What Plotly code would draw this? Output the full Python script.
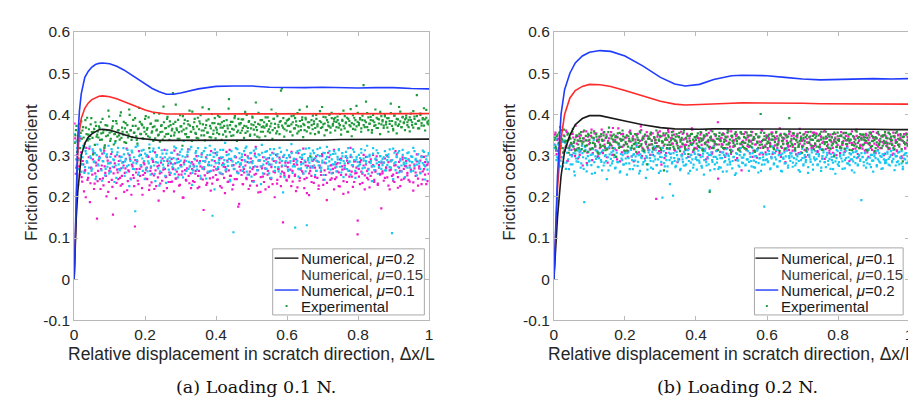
import numpy as np
import plotly.graph_objects as go

# ---------------- numerical curves ----------------
XA = [0, 0.003, 0.006, 0.01, 0.015, 0.02, 0.03, 0.04, 0.05, 0.06, 0.07, 0.08, 0.1, 0.12, 0.14, 0.16,
      0.18, 0.2, 0.22, 0.24, 0.26, 0.28, 0.3, 0.35, 0.4, 0.45, 0.5, 0.55, 0.6, 0.65, 0.7, 0.75, 0.8,
      0.85, 0.9, 0.95, 1.0]
BLUE_A = [0, 0.12, 0.24, 0.34, 0.41, 0.45, 0.49, 0.505, 0.515, 0.521, 0.524, 0.525, 0.523, 0.517,
          0.508, 0.497, 0.485, 0.474, 0.463, 0.455, 0.449, 0.449, 0.452, 0.462, 0.468, 0.469, 0.469,
          0.466, 0.465, 0.465, 0.466, 0.465, 0.464, 0.465, 0.465, 0.463, 0.462]
RED_A = [0, 0.1, 0.2, 0.3, 0.36, 0.39, 0.415, 0.428, 0.436, 0.441, 0.444, 0.445, 0.443, 0.438, 0.431,
         0.424, 0.417, 0.411, 0.406, 0.403, 0.401, 0.401, 0.401, 0.401, 0.402, 0.402, 0.402, 0.402,
         0.402, 0.402, 0.402, 0.402, 0.402, 0.402, 0.402, 0.402, 0.402]
BLACK_A = [0, 0.08, 0.15, 0.21, 0.26, 0.30, 0.33, 0.345, 0.353, 0.359, 0.363, 0.364, 0.362, 0.357,
           0.351, 0.346, 0.342, 0.34, 0.338, 0.337, 0.337, 0.337, 0.337, 0.337, 0.337, 0.338, 0.338,
           0.338, 0.338, 0.338, 0.338, 0.339, 0.339, 0.339, 0.34, 0.34, 0.34]

XB = [0, 0.005, 0.01, 0.02, 0.03, 0.045, 0.06, 0.08, 0.1, 0.13, 0.16, 0.2, 0.25, 0.3, 0.34, 0.37,
      0.41, 0.45, 0.5, 0.53, 0.6, 0.65, 0.7, 0.75, 0.8, 0.85, 0.9, 0.95, 1.0]
BLUE_B = [0, 0.14, 0.25, 0.4, 0.46, 0.5, 0.525, 0.542, 0.551, 0.555, 0.553, 0.542, 0.518, 0.49,
          0.474, 0.469, 0.473, 0.485, 0.494, 0.495, 0.494, 0.49, 0.486, 0.484, 0.485, 0.487, 0.487,
          0.486, 0.487]
RED_B = [0, 0.12, 0.22, 0.34, 0.4, 0.44, 0.458, 0.468, 0.473, 0.472, 0.468, 0.458, 0.445, 0.432,
         0.425, 0.423, 0.424, 0.426, 0.427, 0.428, 0.428, 0.427, 0.427, 0.426, 0.426, 0.426, 0.426,
         0.425, 0.425]
BLACK_B = [0, 0.08, 0.15, 0.25, 0.31, 0.35, 0.375, 0.39, 0.397, 0.397, 0.392, 0.384, 0.375, 0.368,
           0.365, 0.364, 0.364, 0.365, 0.365, 0.365, 0.365, 0.365, 0.365, 0.365, 0.364, 0.364, 0.364,
           0.363, 0.363]

# ---------------- experimental samples, in thousandths (read off the picture) ----------------
# two interleaved sweeps per colour
GREEN_A_MILLI = [
    331,362,309,348,377,355,341,369,322,386,352,337,364,348,391,343,358,326,372,351,
    344,367,381,339,356,318,374,362,349,395,336,358,371,327,353,384,346,362,339,405,
    368,351,333,379,357,344,412,361,338,372,355,391,347,329,366,382,352,374,341,358,
    396,363,347,318,377,356,369,403,342,361,385,351,334,372,358,419,346,367,389,353,
    338,374,361,452,349,382,366,341,357,398,371,324,363,387,352,345,376,409,358,336,
    369,381,355,343,392,364,378,349,417,361,337,374,356,388,345,366,401,353,379,342,
    363,397,352,376,338,368,384,359,346,373,414,357,382,365,349,391,372,336,361,378,
    355,388,367,343,406,371,359,382,348,366,395,374,351,429,362,377,344,386,369,358,
    381,347,372,393,364,356,378,341,389,367,402,359,375,352,384,463,368,346,379,361,
    372,389,358,376,349,397,366,383,354,371,411,362,387,345,374,392,359,381,368,298,
    386,364,377,352,399,371,358,384,367,418,376,349,393,362,381,371,356,404,373,389,
    361,382,395,368,374,351,387,409,366,379,392,358,384,371,347,398,376,363,421,382,
    374,391,358,386,471,369,381,403,362,377,394,356,385,372,412,367,389,378,352,396,
    383,367,399,376,391,358,384,426,372,365,397,381,354,388,376,407,369,393,379,362,
    391,374,386,359,402,381,368,395,377,447,384,366,399,373,388,415,361,392,378,385]
GREEN_A2_MILLI = [
    349,372,337,356,318,383,361,344,329,368,392,351,340,376,357,303,365,381,346,359,
    371,338,354,389,362,325,347,373,409,356,341,366,384,352,335,378,361,349,397,343,
    358,382,366,331,374,351,399,362,345,387,356,372,338,364,416,353,377,342,368,389,
    352,367,393,344,378,359,336,371,385,363,349,402,357,374,339,381,366,352,394,371,
    383,348,365,377,356,424,362,387,341,371,359,396,378,352,366,384,345,373,358,407,
    364,389,353,371,342,383,398,361,376,349,367,385,356,413,372,344,379,361,391,368,
    356,377,394,368,381,351,372,359,386,366,437,374,348,382,363,396,371,357,389,376,
    379,361,388,372,355,399,367,384,351,376,392,363,381,369,346,404,375,358,386,371,
    368,393,376,359,384,371,412,362,389,377,354,396,369,382,458,373,391,364,378,385,
    387,372,358,396,381,366,391,374,403,359,384,371,393,377,362,388,419,369,381,354,
    374,397,383,367,389,376,356,408,381,369,394,378,362,386,373,399,368,391,377,383,
    392,369,386,378,401,363,384,372,396,381,358,389,374,413,379,365,392,386,371,404,
    379,388,366,397,374,385,431,369,393,378,386,362,399,381,374,392,367,388,406,376,
    386,373,395,382,368,391,377,403,384,361,397,376,389,372,418,383,369,394,381,388,
    397,381,369,393,386,374,408,389,377,396,366,385,402,379,391,373,388,411,382,376]
CYAN_A_MILLI = [
    352,291,318,267,336,301,279,324,258,311,287,342,271,298,263,315,284,306,249,327,
    276,294,312,239,286,321,268,303,281,257,297,316,273,289,331,246,308,279,264,296,
    283,318,251,291,274,305,226,287,312,268,296,165,281,324,259,302,277,293,314,243,
    269,301,286,327,254,292,311,276,238,297,283,319,262,288,305,271,296,234,313,281,
    295,258,307,279,322,266,291,247,284,309,273,298,336,256,287,302,268,315,281,229,
    264,292,306,274,318,283,251,297,268,311,286,244,301,277,324,263,289,307,218,282,
    301,272,289,314,256,296,279,331,267,285,303,241,292,276,114,297,318,259,284,306,
    278,297,263,311,286,322,254,293,271,307,282,236,299,317,265,288,301,274,326,257,
    287,309,268,294,279,316,246,291,305,263,283,298,272,319,256,287,211,302,276,294,
    266,301,283,328,258,292,274,307,287,249,313,269,295,281,304,262,131,289,318,274,
    295,271,306,253,288,316,276,299,264,283,307,241,292,321,268,286,302,257,279,311,
    284,262,297,313,273,289,306,248,281,299,267,318,285,254,296,277,309,263,291,274,
    302,279,316,259,293,271,287,324,266,298,282,238,305,274,291,313,256,284,299,268,
    277,296,311,264,289,303,272,286,112,317,281,265,298,307,259,292,276,314,283,248,
    293,271,308,286,261,297,319,275,289,252,304,281,268,296,312,277,242,299,285,306]
CYAN_A2_MILLI = [
    334,276,309,289,347,261,296,318,272,305,283,257,322,294,268,311,286,243,301,279,
    293,315,264,287,306,252,298,273,324,281,261,309,291,236,276,302,319,267,288,297,
    271,303,286,259,314,277,295,242,308,283,267,321,289,254,299,276,312,263,287,305,
    298,262,281,309,274,293,317,256,284,301,269,227,296,313,278,287,251,305,291,266,
    286,307,272,294,255,318,283,269,302,288,315,247,279,296,263,309,285,274,321,258,
    274,291,311,266,299,281,244,306,287,272,319,293,261,284,302,276,154,297,315,268,
    308,283,259,296,277,314,289,264,301,275,292,238,311,286,268,299,281,316,257,293,
    281,303,272,289,318,261,295,283,306,249,287,312,274,296,265,303,289,231,307,278,
    296,268,311,284,257,301,278,293,316,272,285,304,262,291,309,276,298,248,287,313,
    263,298,287,306,274,292,125,283,311,267,296,279,302,256,288,317,271,294,283,305,
    289,312,276,294,263,301,285,319,271,288,253,306,282,297,274,311,266,291,304,279,
    305,273,291,316,282,259,298,287,271,309,294,263,286,302,277,315,289,246,297,284,
    276,294,307,269,288,313,281,297,256,302,287,274,318,265,293,281,306,272,299,286,
    292,283,264,301,277,296,315,271,289,243,307,284,296,273,311,288,262,302,279,294,
    281,306,289,271,298,284,263,311,292,278,303,286,257,297,282,309,274,291,266,301]
MAGENTA_A_MILLI = [
    378,256,301,229,274,342,248,287,213,265,319,241,296,187,271,254,306,232,283,147,
    263,297,219,276,245,312,258,201,288,236,269,304,224,257,281,196,266,243,298,227,
    251,284,212,269,317,238,262,291,205,274,246,128,259,286,231,268,302,221,253,279,
    244,271,298,217,263,235,289,252,308,226,274,191,257,283,239,266,314,248,221,276,
    259,236,292,267,213,281,245,303,254,229,277,262,198,288,241,269,315,233,257,284,
    238,274,256,299,221,263,287,244,271,168,252,296,234,278,261,215,289,247,273,306,
    266,242,281,226,294,255,273,209,262,288,237,314,251,276,229,267,296,243,258,183,
    279,253,231,268,302,246,284,219,261,293,238,272,254,321,227,265,289,212,274,249,
    236,269,291,254,224,278,243,307,261,199,286,232,267,295,249,274,138,258,283,241,
    272,248,296,226,263,287,251,214,278,306,239,266,292,257,221,284,246,275,204,263,
    251,287,234,271,298,246,219,276,261,304,229,283,253,192,268,296,241,277,258,314,
    243,279,262,226,291,253,274,207,268,297,236,282,249,319,261,224,286,257,271,109,
    268,231,289,256,276,218,297,263,242,284,251,274,302,236,261,289,229,277,254,172,
    257,283,246,271,299,227,264,288,251,239,276,311,258,222,285,263,241,296,268,247,
    274,252,291,237,266,284,215,278,259,303,244,269,288,231,262,297,254,276,238,283]
MAGENTA_A2_MILLI = [
    342,271,226,293,254,308,237,279,262,199,284,246,317,233,268,291,219,257,276,238,
    289,243,267,305,228,274,251,296,212,263,283,241,157,272,298,234,259,287,246,269,
    231,276,258,292,216,264,301,244,278,253,226,289,267,239,311,251,273,205,283,258,
    266,243,297,228,271,256,285,219,264,301,247,276,232,259,293,214,268,249,287,236,
    253,281,237,269,312,244,261,292,227,276,254,198,283,265,239,298,251,274,221,267,
    279,236,263,288,251,224,274,303,242,267,286,229,258,277,245,311,232,264,287,253,
    241,268,294,257,222,281,246,272,309,236,264,251,289,218,277,243,296,261,176,273,
    264,289,231,259,276,243,298,254,227,284,267,238,305,256,273,211,288,248,269,296,
    256,218,281,263,294,245,272,231,287,259,302,241,268,283,226,261,297,252,275,239,
    283,251,266,309,237,279,254,291,223,268,246,284,262,317,243,276,209,289,257,271,
    236,274,291,248,263,286,227,271,253,299,241,264,282,234,307,259,276,245,268,218,
    271,247,282,259,225,293,266,238,276,254,288,211,263,297,249,274,236,286,258,142,
    249,285,261,234,302,252,279,246,268,223,291,259,277,241,264,298,232,271,256,283,
    262,239,293,271,247,284,218,266,289,254,236,277,303,248,271,226,262,291,244,275,
    287,258,241,276,263,297,235,269,251,286,227,274,259,298,242,267,284,231,278,256]

GREEN_B_MILLI = [
    338,321,347,312,356,329,341,318,363,334,325,351,307,344,331,358,322,339,314,348,
    327,353,335,316,342,361,324,337,309,349,331,356,318,343,328,352,336,305,347,321,
    339,324,357,313,346,331,368,326,342,318,351,334,297,345,329,355,321,338,347,312,
    333,349,322,341,356,318,337,328,352,309,344,331,359,324,338,315,347,332,279,341,
    326,352,336,319,345,331,361,322,339,348,314,335,354,327,342,318,349,333,326,357,
    341,317,336,352,324,345,311,338,329,356,321,343,334,304,348,327,353,339,316,344,
    329,354,321,342,336,317,349,331,362,325,338,212,346,319,335,352,328,341,314,347,
    337,322,351,333,318,344,356,327,339,308,348,331,323,357,336,315,342,329,353,321,
    345,331,316,349,337,324,358,329,341,312,352,334,319,346,401,327,338,355,321,343,
    334,351,322,339,347,318,333,356,325,342,311,349,336,328,353,317,344,331,359,323,
    341,326,354,314,338,349,322,336,343,307,351,329,345,318,357,332,339,324,348,315,
    329,347,336,321,353,339,314,344,328,358,333,319,346,337,325,352,298,341,331,356,
    338,322,349,333,344,317,355,328,341,336,352,313,347,324,339,358,331,345,318,342,
    326,351,337,314,343,329,356,321,348,335,311,345,332,354,326,341,319,349,336,357,
    343,331,318,352,338,326,347,315,355,333,341,322,349,337,286,346,328,352,324,339]
GREEN_B2_MILLI = [
    344,317,351,331,326,362,339,308,347,322,336,354,319,341,328,365,333,312,349,337,
    318,342,357,329,334,311,348,325,353,338,316,344,331,359,323,346,308,339,327,352,
    336,349,322,343,315,357,331,326,348,339,302,345,332,354,319,341,336,361,325,344,
    329,312,347,336,353,324,341,317,332,349,338,321,356,328,343,311,351,334,322,346,
    341,356,327,315,344,338,323,351,336,319,347,332,264,339,354,326,345,318,337,349,
    322,339,346,331,318,355,334,343,327,361,316,341,348,324,336,352,329,313,345,338,
    348,324,333,357,341,312,346,329,352,336,321,344,337,359,318,334,349,327,341,355,
    335,351,318,339,346,327,362,331,314,348,336,324,353,341,329,345,312,357,333,322,
    318,343,356,327,334,349,321,338,345,309,352,331,344,326,356,335,319,347,338,329,
    347,331,323,352,339,316,344,358,328,337,349,322,335,343,317,351,329,346,391,334,
    329,354,341,318,347,332,326,355,339,321,343,336,312,349,331,345,358,324,338,351,
    343,322,336,349,327,358,315,341,333,346,324,352,338,317,344,329,356,334,321,347,
    336,348,319,331,355,342,328,337,351,314,339,326,347,333,361,322,343,318,352,339,
    351,327,344,336,312,349,331,356,323,345,338,318,342,357,329,334,347,324,349,331,
    324,342,355,329,346,337,319,344,331,358,326,339,352,316,345,333,328,351,337,342]
MAGENTA_B_MILLI = [
    327,356,304,341,318,369,296,334,349,312,361,287,338,323,352,301,344,316,373,329,
    293,347,311,335,276,342,321,359,307,336,315,348,289,331,354,313,339,298,345,324,
    363,306,337,319,351,283,342,328,357,302,334,317,348,291,366,322,339,308,353,326,
    311,344,297,335,361,318,342,286,329,352,305,338,324,371,299,346,313,333,357,319,
    341,302,328,354,315,337,195,346,323,359,308,332,349,294,339,317,362,326,304,343,
    329,351,312,336,284,347,321,358,303,339,326,314,353,297,342,331,366,309,335,318,
    346,323,337,301,355,314,342,328,291,349,333,317,361,305,338,324,347,312,381,327,
    309,343,326,352,297,336,318,359,331,304,344,321,337,289,351,315,342,328,264,336,
    352,317,339,323,348,306,334,357,312,341,327,295,346,334,319,362,303,338,325,349,
    318,343,331,296,356,322,339,311,347,328,306,353,319,337,341,284,349,326,314,358,
    337,312,349,328,303,344,321,365,308,336,324,352,297,341,315,331,347,318,356,323,
    329,354,311,338,322,347,293,334,361,316,343,327,306,351,332,319,338,344,301,326,
    341,318,357,326,336,309,348,322,339,287,353,331,316,345,328,363,304,337,321,349,
    324,339,312,353,331,297,344,319,336,358,307,342,326,314,351,334,318,346,329,305,
    347,328,316,341,335,302,356,323,338,311,349,327,343,294,336,352,317,331,345,322]
MAGENTA_B2_MILLI = [
    351,312,338,294,346,323,361,307,334,319,357,288,342,326,314,353,331,299,345,317,
    336,302,349,324,358,311,337,282,346,328,315,363,306,341,322,354,297,333,318,347,
    309,356,327,343,296,335,318,349,324,367,301,338,313,344,329,286,352,321,339,306,
    344,328,311,357,334,298,347,316,339,325,353,308,336,362,319,341,293,328,348,314,
    326,351,337,302,343,319,331,356,311,345,278,333,324,349,306,338,357,316,342,329,
    359,314,336,328,347,291,339,322,353,309,341,326,334,317,348,302,363,331,319,345,
    317,343,302,351,326,338,314,347,333,296,355,321,342,308,337,329,351,313,244,338,
    342,328,354,316,339,305,346,331,322,359,311,337,326,348,294,343,318,356,327,334,
    331,357,313,344,321,336,349,297,338,327,352,316,345,303,333,361,322,339,308,347,
    313,339,328,356,304,347,325,341,318,333,366,297,344,329,312,349,336,321,353,307,
    348,321,342,311,337,353,306,329,346,324,338,314,357,332,301,344,327,339,318,356,
    326,352,309,335,319,344,331,358,292,341,323,349,312,336,345,307,334,353,321,338,
    339,306,347,328,354,315,337,322,346,331,304,359,327,341,317,348,296,335,326,343,
    317,345,331,349,308,338,326,352,314,343,329,306,355,322,337,318,347,333,301,351,
    334,321,356,317,342,329,305,348,336,313,351,327,339,298,346,331,319,354,328,337]
CYAN_B_MILLI = [
    318,341,296,327,305,288,334,274,312,331,283,319,267,302,324,279,306,252,293,316,
    285,308,271,324,296,187,314,262,299,286,317,277,303,338,258,292,311,272,305,289,
    264,313,283,301,243,296,321,276,308,287,318,269,297,284,326,259,304,289,278,311,
    293,254,309,281,319,298,267,304,288,329,275,301,263,296,312,284,308,246,295,279,
    314,287,302,268,322,291,277,306,258,297,285,198,311,274,299,262,317,289,305,281,
    203,294,272,309,286,318,265,301,291,276,304,279,314,257,297,283,326,271,308,292,
    266,303,288,319,275,298,254,311,284,306,279,216,301,289,322,267,297,283,313,272,
    294,308,261,302,287,316,278,299,285,311,269,296,324,257,304,288,273,309,295,282,
    301,276,314,291,263,305,287,319,272,298,284,312,259,293,307,278,296,176,289,303,
    284,311,267,297,322,279,306,291,274,313,286,301,262,295,308,282,318,271,299,287,
    306,273,294,312,281,298,265,304,289,317,276,295,284,309,258,302,291,314,278,296,
    289,304,277,299,316,263,292,308,284,272,301,287,319,268,297,283,305,256,294,311,
    275,298,313,286,302,269,294,318,281,306,291,264,308,297,282,311,276,299,287,192,
    297,284,307,271,293,315,279,302,288,261,305,294,277,312,286,299,268,303,291,282,
    283,309,292,276,301,287,314,265,298,284,307,279,296,311,273,293,305,282,299,288]
CYAN_B2_MILLI = [
    326,289,311,302,274,319,296,283,337,268,307,291,314,279,298,323,261,305,286,312,
    297,314,281,306,268,321,293,277,309,288,302,256,316,284,298,312,273,294,307,285,
    312,276,299,287,318,264,303,292,281,311,296,271,307,284,327,262,293,301,279,306,
    281,306,294,267,314,289,302,276,298,321,285,257,303,294,279,311,288,299,266,308,
    294,271,309,286,298,313,277,291,305,263,296,319,282,301,289,274,307,231,295,284,
    306,287,275,301,292,316,268,298,284,309,276,294,313,287,263,302,291,278,304,296,
    289,312,283,296,271,305,289,317,276,293,302,264,308,285,297,279,311,292,268,301,
    271,294,308,284,299,262,303,291,279,314,287,297,253,306,289,276,301,318,283,295,
    303,278,291,311,285,297,274,306,288,271,299,316,282,294,263,307,289,279,303,291,
    286,304,269,293,308,281,296,314,273,301,287,263,305,292,281,298,312,276,294,305,
    298,283,312,276,291,303,287,261,306,294,279,301,289,316,272,297,285,308,266,293,
    311,292,279,304,286,271,299,313,284,296,307,278,292,304,289,267,301,286,314,279,
    284,301,293,268,307,289,312,281,296,277,303,291,286,259,309,294,278,302,291,306,
    296,276,306,289,281,314,295,272,302,288,299,311,274,291,306,283,297,269,304,287,
    289,305,278,297,311,284,292,303,276,299,286,309,294,281,267,302,291,306,283,298]

X_TICKS = [0, 0.2, 0.4, 0.6, 0.8, 1]
X_TICKTEXT = ["0", "0.2", "0.4", "0.6", "0.8", "1"]
Y_TICKS = [-0.1, 0, 0.1, 0.2, 0.3, 0.4, 0.5, 0.6]
Y_TICKTEXT = ["-0.1", "0", "0.1", "0.2", "0.3", "0.4", "0.5", "0.6"]

LEGEND_A = ["Numerical, <i>μ</i>=0.2", "Numerical, <i>μ</i>=0.15", "Numerical, <i>μ</i>=0.1", "Experimental"]
LEGEND_B = ["Numerical, <i>μ</i>=0.1", "Numerical, <i>μ</i>=0.15", "Numerical, <i>μ</i>=0.2", "Experimental"]
X_TITLE = "Relative displacement in scratch direction, Δx/L"
Y_TITLE = "Friction coefficient"
CAPTIONS = ["(a) Loading 0.1 N.", "(b) Loading 0.2 N."]

C_BLUE = "#1f3cff"
C_RED = "#ff2a2a"
C_BLACK = "#1a1a1a"
C_GREEN = "#1f9a3a"
C_MAGENTA = "#f01cc8"
C_CYAN = "#18c8f0"
C_FRAME = "#b8b8b8"
SANS = "Liberation Sans, Arial, sans-serif"

W, H = 916, 405
fig = go.Figure()


def sample_x(n, offset):
    return np.linspace(0.001 + offset, 0.999, n)


def add_panel(xr, yr, xl, blue, red, black, greens, magentas, cyans):
    for sweeps, col, off in ((magentas, C_MAGENTA, 0.0), (cyans, C_CYAN, 0.0011), (greens, C_GREEN, 0.0006)):
        xs = np.concatenate([sample_x(len(s), off + k * 0.0017) for k, s in enumerate(sweeps)])
        ys = np.concatenate([np.array(s) / 1000.0 for s in sweeps])
        fig.add_trace(go.Scatter(
            x=xs, y=ys, mode="markers", xaxis=xr, yaxis=yr, showlegend=False,
            marker=dict(color=col, size=2.2, symbol="square", line=dict(width=0))))
    for ys, col in ((red, C_RED), (black, C_BLACK), (blue, C_BLUE)):
        fig.add_trace(go.Scatter(x=xl, y=ys, mode="lines", xaxis=xr, yaxis=yr, showlegend=False,
                                 line=dict(color=col, width=1.6)))


add_panel("x", "y", XA, BLUE_A, RED_A, BLACK_A, (GREEN_A_MILLI, GREEN_A2_MILLI),
          (MAGENTA_A_MILLI, MAGENTA_A2_MILLI), (CYAN_A_MILLI, CYAN_A2_MILLI))
add_panel("x2", "y2", XB, BLUE_B, RED_B, BLACK_B, (GREEN_B_MILLI, GREEN_B2_MILLI),
          (MAGENTA_B_MILLI, MAGENTA_B2_MILLI), (CYAN_B_MILLI, CYAN_B2_MILLI))

ax_common = dict(showline=True, linecolor=C_FRAME, linewidth=1, mirror="ticks",
                 ticks="inside", ticklen=4, tickcolor=C_FRAME, showgrid=False, zeroline=False,
                 tickfont=dict(family=SANS, size=15.5, color="#262626"))
yd = [1 - 316.7 / H, 1 - 15.7 / H]

fig.update_layout(
    width=W, height=H, margin=dict(l=0, r=0, t=0, b=0),
    paper_bgcolor="white", plot_bgcolor="white", showlegend=False,
    xaxis=dict(domain=[62.7 / W, 420.7 / W], range=[0, 1], tickvals=X_TICKS, ticktext=X_TICKTEXT,
               anchor="y", **ax_common),
    yaxis=dict(domain=yd, range=[-0.1, 0.6], tickvals=Y_TICKS, ticktext=Y_TICKTEXT, anchor="x",
               **ax_common),
    xaxis2=dict(domain=[546.7 / W, 905 / W], range=[0, 1], tickvals=X_TICKS, ticktext=X_TICKTEXT,
                anchor="y2", **ax_common),
    yaxis2=dict(domain=yd, range=[-0.1, 0.6], tickvals=Y_TICKS, ticktext=Y_TICKTEXT, anchor="x2",
                **ax_common),
)


def px(x):
    return x / W


def py(y):
    return 1 - y / H


shapes = []
ann = []

# --- legends (drawn as boxes so that row spacing matches the source) ---
ROWS = [251.7, 268.3, 285.0, 301.7]
for (bx0, bx1, by0, by1, sx0, sx1, tx), labels, colors in (
        ((263, 416, 242, 311, 265, 289, 290), LEGEND_A, (C_BLACK, None, C_BLUE)),
        ((749, 899, 241, 311, 750, 773, 773.5), LEGEND_B, (C_BLACK, None, C_BLUE))):
    shapes.append(dict(type="rect", xref="paper", yref="paper", x0=px(bx0), x1=px(bx1),
                       y0=py(by1), y1=py(by0), line=dict(color="#a8a8a8", width=1),
                       fillcolor="white", layer="above"))
    for i, col in enumerate(colors):
        if col:
            shapes.append(dict(type="line", xref="paper", yref="paper", x0=px(sx0), x1=px(sx1),
                               y0=py(ROWS[i]), y1=py(ROWS[i]), line=dict(color=col, width=1.4),
                               layer="above"))
    cx = (sx0 + sx1) / 2
    shapes.append(dict(type="rect", xref="paper", yref="paper", x0=px(cx - 1), x1=px(cx + 1),
                       y0=py(ROWS[3] + 1), y1=py(ROWS[3] - 1), line=dict(width=0),
                       fillcolor=C_GREEN, layer="above"))
    for i, lab in enumerate(labels):
        ann.append(dict(x=px(tx), y=py(ROWS[i]), xref="paper", yref="paper", text=lab,
                        showarrow=False, xanchor="left", yanchor="middle",
                        font=dict(family=SANS, size=15, color="#3a3a3a" if i == 1 else "#1a1a1a")))

# --- axis titles and captions ---
for cx, ycx, cap, capx in ((241.7, 19, CAPTIONS[0], 246), (725.8, 502, CAPTIONS[1], 732)):
    ann.append(dict(x=px(cx), y=py(352), xref="paper", yref="paper", text=X_TITLE,
                    showarrow=False, xanchor="center", yanchor="middle",
                    font=dict(family=SANS, size=17.5, color="#262626")))
    ann.append(dict(x=px(ycx), y=py(162), xref="paper", yref="paper", text=Y_TITLE,
                    showarrow=False, textangle=-90, xanchor="center", yanchor="middle",
                    font=dict(family=SANS, size=17, color="#262626")))
    ann.append(dict(x=px(capx), y=py(386.5), xref="paper", yref="paper", text=cap,
                    showarrow=False, xanchor="center", yanchor="middle",
                    font=dict(family="DejaVu Serif, serif", size=17.5, color="#111111")))

fig.update_layout(shapes=shapes, annotations=ann)
fig.write_html("out.html")
